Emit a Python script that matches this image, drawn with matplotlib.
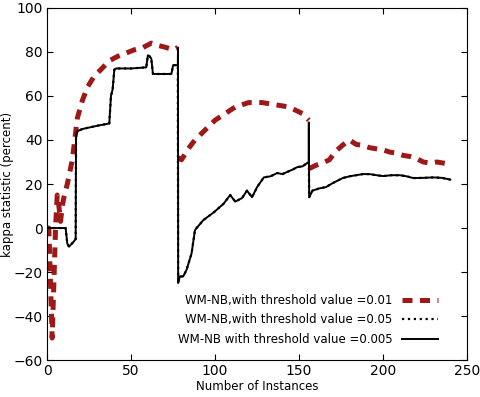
import matplotlib
matplotlib.use("Agg")
import matplotlib.pyplot as plt

# threshold 0.01 (red dashed)
x_001 = [0, 1, 2, 3, 4, 5, 6, 7, 8, 9, 10, 12, 15, 18, 21, 24, 28, 32, 37, 42,
         47, 52, 57, 62, 66, 71, 75, 77.8, 78, 80, 84, 88, 92, 96, 100, 104, 108, 112, 116, 120,
         124, 128, 132, 136, 140, 144, 148, 152, 155.8, 156, 160, 164, 168, 172, 176, 180, 184, 188, 192, 196,
         200, 204, 208, 212, 216, 220, 224, 228, 232, 236, 240]
kappa_001 = [0, 0, -25, -50, -25, 0, 15, 10, 3, 10, 14, 20, 31, 50, 58, 64, 69, 72, 76, 78,
             79.5, 81, 82, 84, 83, 82, 81, 82, 32, 31, 36, 40, 43, 46, 49, 51, 53, 55, 56, 57,
             57, 57, 56.5, 56, 55.5, 55, 53.5, 52, 49, 27, 28.5, 29.5, 31, 35, 37.7, 40, 38, 37.5, 36.5, 36,
             35.5, 34.5, 34, 33, 32.5, 31.5, 30, 29.5, 30, 29.5, 29]
drift_points = [78, 156]

# threshold 0.05 (black dotted)
x_005 = [0, 11, 12, 13, 16, 17, 17.2, 18, 21, 30,
         37, 38, 39, 40, 41, 50, 59, 60, 61, 62,
         63, 70, 74, 75, 77.8, 78, 79, 81, 83, 86,
         88, 89, 93, 99, 105, 109, 112, 116, 119, 122,
         125, 129, 133, 137, 140, 143, 146, 149, 152, 155.8,
         156, 158, 162, 166, 170, 176, 180, 184, 188, 192,
         196, 200, 205, 210, 214, 218, 224, 230, 235, 240]
kappa_005 = [0, 0, -7, -8.5, -6, -5, 42, 44, 45, 46.5,
             47.5, 60, 63, 72, 72.5, 72.5, 73, 78.5, 78, 77,
             70, 70, 70, 74, 74, -25, -22, -22, -19, -11.5,
             -1, 0, 3.6, 7, 11, 15, 12, 13.6, 17, 14,
             18.6, 23, 23.5, 25, 24.5, 25.5, 26.5, 27.7, 28, 30,
             14, 17, 18, 18.6, 20.4, 22.7, 23.5, 24, 24.5, 24.5,
             24, 23.6, 24, 24, 23.5, 22.7, 22.8, 23, 22.8, 22]

# threshold 0.005 (black solid)
x_0005 = [0, 11, 12, 13, 16, 17, 17.2, 18, 21, 30,
          37, 38, 39, 40, 41, 50, 59, 60, 61, 62,
          63, 70, 74, 75, 77.8, 77.9, 78, 79, 81, 83, 86,
          88, 89, 93, 99, 105, 109, 112, 116, 119, 122,
          125, 129, 133, 137, 140, 143, 146, 149, 152, 155.7, 155.8,
          156, 158, 162, 166, 170, 176, 180, 184, 188, 192,
          196, 200, 205, 210, 214, 218, 224, 230, 235, 240]
kappa_0005 = [0, 0, -7, -8.5, -6, -5, 42, 44, 45, 46.5,
              47.5, 60, 63, 72, 72.5, 72.5, 73, 78.5, 78, 77,
              70, 70, 70, 74, 74, 82, -25, -22, -22, -19, -11.5,
              -1, 0, 3.6, 7, 11, 15, 12, 13.6, 17, 14,
              18.6, 23, 23.5, 25, 24.5, 25.5, 26.5, 27.7, 28, 30, 48,
              14, 17, 18, 18.6, 20.4, 22.7, 23.5, 24, 24.5, 24.5,
              24, 23.6, 24, 24, 23.5, 22.7, 22.8, 23, 22.8, 22]

labels = ["WM-NB,with threshold value =0.01",
          "WM-NB,with threshold value =0.05",
          "WM-NB with threshold value =0.005"]

fig = plt.figure(figsize=(4.81, 3.97), dpi=100)
ax = fig.add_axes([0.098, 0.093, 0.873, 0.887])

# red line is broken at the drift points
cuts = [0] + [x_001.index(d) for d in drift_points] + [len(x_001)]
for i in range(len(cuts) - 1):
    a, b = cuts[i], cuts[i + 1]
    ax.plot(x_001[a:b], kappa_001[a:b], color="#9e1818", lw=3.6, dashes=(2, 1.5),
            label=labels[0] if i == 0 else None, zorder=2)
ax.plot(x_005, kappa_005, color="black", lw=1.6, linestyle=":", label=labels[1], zorder=3)
ax.plot(x_0005, kappa_0005, color="black", lw=1.4, label=labels[2], zorder=4)

ax.set_xlim(0, 250)
ax.set_ylim(-60, 100)
ax.set_xticks([0, 50, 100, 150, 200, 250])
ax.set_yticks(range(-60, 101, 20))
ax.tick_params(direction="in", top=True, right=True, labelsize=10, length=4, pad=3)
ax.set_xlabel("Number of Instances", fontsize=8.5, labelpad=1)
ax.set_ylabel("kappa statistic (percent)", fontsize=8.5, labelpad=0)

leg = ax.legend(loc="lower right", bbox_to_anchor=(0.955, 0.01), frameon=False,
                markerfirst=False, handlelength=3.0, labelspacing=0.55,
                prop={"family": ["Liberation Sans Narrow", "DejaVu Sans"], "size": 8.5})

fig.savefig("out.png", dpi=100)
